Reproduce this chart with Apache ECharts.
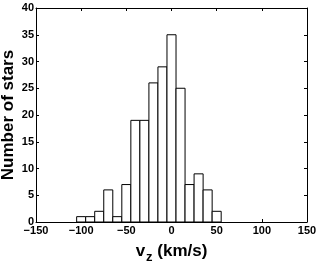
<!DOCTYPE html>
<html><head><meta charset="utf-8">
<script src="https://cdn.jsdelivr.net/npm/echarts@6/dist/echarts.min.js"></script>
<style>html,body{margin:0;padding:0;background:#fff}#c{width:319px;height:263px}</style>
</head><body><div id="c"></div>
<script>
const binCenters = [-100,-90,-80,-70,-60,-50,-40,-30,-20,-10,0,10,20,30,40,50];
const counts     = [1,1,2,6,1,7,19,19,26,29,35,25,7,9,6,2];
const binWidth = 10;
const xTicks = [-150,-100,-50,0,50,100,150];
const yTicks = [0,5,10,15,20,25,30,35,40];

const FONT = 'Liberation Sans';
const chart = echarts.init(document.getElementById('c'), null, {renderer:'canvas'});
const lbl = {fontFamily:FONT, fontWeight:'bold', fontSize:11, color:'#000'};
const line = {lineStyle:{color:'#000', width:1}};
chart.setOption({
  animation:false,
  grid:{left:36, right:12, top:8, bottom:41, containLabel:false, outerBoundsMode:'none'},
  xAxis:[{
    type:'value', min:xTicks[0], max:xTicks[xTicks.length-1], interval:50, position:'bottom',
    axisLine:{show:true, onZero:false, ...line},
    axisTick:{show:true, inside:true, length:3, lineStyle:{color:'#000'}},
    splitLine:{show:false},
    axisLabel:{...lbl, margin:3, formatter:v=>String(v).replace('-','\u2212')},
    name:'{v|v}{s|z}{v| (km/s)}', nameLocation:'middle', nameGap:17,
    nameTextStyle:{rich:{
      v:{fontFamily:FONT, fontWeight:'bold', fontSize:17, color:'#000'},
      s:{fontFamily:FONT, fontWeight:'bold', fontSize:13, color:'#000', padding:[12,0,0,1]}
    }}
  },{
    type:'value', min:xTicks[0], max:xTicks[xTicks.length-1], interval:50, position:'top',
    axisLine:{show:true, onZero:false, ...line},
    axisTick:{show:true, inside:true, length:3, lineStyle:{color:'#000'}},
    splitLine:{show:false}, axisLabel:{show:false}
  }],
  yAxis:[{
    type:'value', min:yTicks[0], max:yTicks[yTicks.length-1], interval:5, position:'left',
    axisLine:{show:true, onZero:false, ...line},
    axisTick:{show:true, inside:true, length:3, lineStyle:{color:'#000'}},
    splitLine:{show:false},
    axisLabel:{...lbl, margin:2},
    name:'Number of stars', nameLocation:'middle', nameGap:19, nameRotate:90, nameMoveOverlap:false,
    nameTextStyle:{fontFamily:FONT, fontWeight:'bold', fontSize:17, color:'#000'}
  },{
    type:'value', min:yTicks[0], max:yTicks[yTicks.length-1], interval:5, position:'right',
    axisLine:{show:true, onZero:false, ...line},
    axisTick:{show:true, inside:true, length:3, lineStyle:{color:'#000'}},
    splitLine:{show:false}, axisLabel:{show:false}
  }],
  series:[{
    type:'custom',
    data: binCenters.map((c,i)=>[c, counts[i]]),
    renderItem:(params, api)=>{
      const c = api.value(0), h = api.value(1);
      const p0 = api.coord([c - binWidth/2, 0]);
      const p1 = api.coord([c + binWidth/2, h]);
      return {type:'rect', shape:{x:p0[0], y:p1[1], width:p1[0]-p0[0], height:p0[1]-p1[1]},
        style:{fill:'#fff', stroke:'#000', lineWidth:1}};
    }
  }]
});
</script></body></html>
